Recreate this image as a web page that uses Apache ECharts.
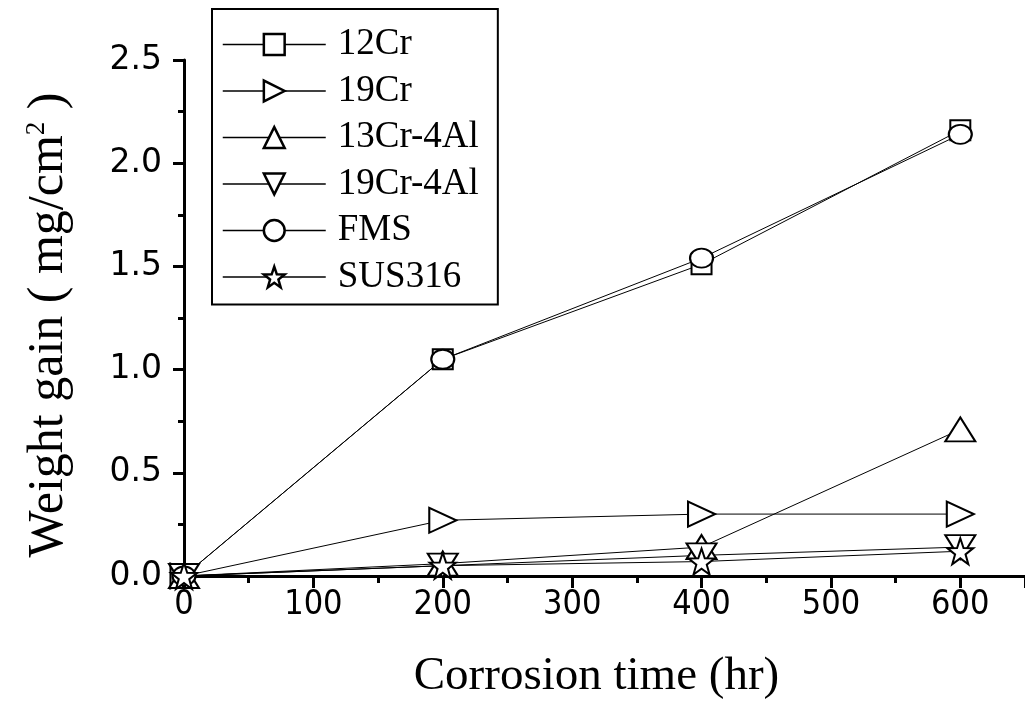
<!DOCTYPE html>
<html>
<head>
<meta charset="utf-8">
<script src="https://cdn.jsdelivr.net/npm/echarts@6/dist/echarts.min.js"></script>
<style>html,body{margin:0;padding:0;background:#fff;}#c{width:1025px;height:705px;}</style>
</head>
<body>
<div id="c"></div>
<script>
const xValues = [0, 200, 400, 600];
const seriesNames = ['12Cr', '19Cr', '13Cr-4Al', '19Cr-4Al', 'FMS', 'SUS316'];
const cr12 = [0, 1.05, 1.51, 2.16];
const cr19 = [0, 0.27, 0.30, 0.30];
const cr13al4 = [0, 0.06, 0.14, 0.71];
const cr19al4 = [0, 0.05, 0.10, 0.14];
const fms = [0, 1.05, 1.54, 2.14];
const sus316 = [0, 0.05, 0.07, 0.12];
const xTickLabels = [0, 100, 200, 300, 400, 500, 600];
const yTickLabels = ['0.0', '0.5', '1.0', '1.5', '2.0', '2.5'];

const starPath = 'path://M50,0 L61.8,33.8 L97.6,34.5 L69.1,56.2 L79.4,90.5 L50,70 L20.6,90.5 L30.9,56.2 L2.4,34.5 L38.2,33.8 Z';

function pairs(ys) { return xValues.map((x, i) => [x, ys[i]]); }

const serif = '"Liberation Serif", "Times New Roman", serif';
const baseSeries = {
  type: 'line',
  xAxisIndex: 0,
  yAxisIndex: 0,
  lineStyle: { color: '#000', width: 1 },
  itemStyle: { color: '#fff', borderColor: '#000', borderWidth: 2 },
  showAllSymbol: true,
  clip: false,
  animation: false
};
const defs = [
  { name: seriesNames[0], data: cr12, symbol: 'rect', symbolSize: 20, symbolRotate: 0 },
  { name: seriesNames[1], data: cr19, symbol: 'triangle', symbolSize: [25, 27], symbolRotate: -90 },
  { name: seriesNames[2], data: cr13al4, symbol: 'triangle', symbolSize: [30, 24], symbolRotate: 0 },
  { name: seriesNames[3], data: cr19al4, symbol: 'triangle', symbolSize: [30, 24], symbolRotate: 180 },
  { name: seriesNames[4], data: fms, symbol: 'circle', symbolSize: [23, 19], symbolRotate: 0 },
  { name: seriesNames[5], data: sus316, symbol: starPath, symbolSize: 26, symbolRotate: 0 }
];
const series = defs.map(d => Object.assign({}, baseSeries, {
  name: d.name, data: pairs(d.data), symbol: d.symbol, symbolSize: d.symbolSize, symbolRotate: d.symbolRotate
}));

const axisLineStyle = { color: '#000', width: 3 };
const chart = echarts.init(document.getElementById('c'), null, { renderer: 'canvas' });
chart.setOption({
  animation: false,
  backgroundColor: '#fff',
  grid: { left: 184, right: -9, top: 60, bottom: 125, containLabel: false },
  legend: {
    orient: 'vertical',
    left: 212,
    top: 9,
    padding: [17, 19, 9, 10],
    itemGap: 9.5,
    itemWidth: 103,
    itemHeight: 26,
    backgroundColor: '#fff',
    borderColor: '#000',
    borderWidth: 2,
    borderRadius: 0,
    itemStyle: { borderWidth: 2.5 },
    lineStyle: { width: 1.5 },
    formatter: '{a|{name}}',
    textStyle: {
      color: '#000',
      fontFamily: serif,
      fontSize: 37,
      rich: { a: { fontFamily: serif, fontSize: 37, color: '#000', padding: [0, 0, 0, 7] } }
    },
    data: seriesNames
  },
  xAxis: [
    {
      type: 'value', gridIndex: 0, position: 'bottom', min: 0, max: 650, interval: 50,
      axisLine: { show: true, onZero: false, lineStyle: axisLineStyle },
      axisTick: { show: true, inside: false, length: 7, lineStyle: { color: '#000', width: 3 } },
      splitLine: { show: false },
      axisLabel: {
        show: true, margin: 12, color: '#000',
        fontFamily: '"Liberation Sans Narrow", "DejaVu Sans Condensed", "Arial Narrow", sans-serif',
        fontSize: 34,
        showMaxLabel: false,
        formatter: v => (xTickLabels.indexOf(v) >= 0 ? String(v) : '')
      },
      name: 'Corrosion time (hr)',
      nameLocation: 'middle',
      nameGap: 77,
      nameTextStyle: { color: '#000', fontFamily: serif, fontSize: 47, padding: [0, 16, 0, 0] }
    },
    {
      type: 'value', gridIndex: 0, position: 'bottom', min: 0, max: 650, interval: 100,
      axisLine: { show: false, onZero: false },
      axisTick: { show: true, inside: false, length: 12, lineStyle: { color: '#000', width: 3 } },
      splitLine: { show: false },
      axisLabel: { show: false }
    }
  ],
  yAxis: [
    {
      type: 'value', gridIndex: 0, position: 'left', min: 0, max: 2.5, interval: 0.25,
      axisLine: { show: true, onZero: false, lineStyle: axisLineStyle },
      axisTick: { show: true, inside: false, length: 6, lineStyle: { color: '#000', width: 3 } },
      splitLine: { show: false },
      axisLabel: {
        show: true, margin: 22, color: '#000',
        fontFamily: '"DejaVu Sans", sans-serif', fontSize: 33,
        formatter: v => {
          const s = v.toFixed(1);
          return (Math.abs(v * 2 - Math.round(v * 2)) < 1e-6 && yTickLabels.indexOf(s) >= 0) ? s : '';
        }
      },
      name: 'Weight gain ( mg/cm{sup|2} )',
      nameLocation: 'middle',
      nameGap: 110,
      nameTextStyle: {
        color: '#000', fontFamily: serif, fontSize: 50, padding: [0, 14, 0, 0],
        rich: { sup: { fontFamily: serif, fontSize: 27, color: '#000', verticalAlign: 'top', padding: [0, 0, 24, 0] } }
      }
    },
    {
      type: 'value', gridIndex: 0, position: 'left', min: 0, max: 2.5, interval: 0.5,
      axisLine: { show: false, onZero: false },
      axisTick: { show: true, inside: false, length: 11, lineStyle: { color: '#000', width: 3 } },
      splitLine: { show: false },
      axisLabel: { show: false }
    }
  ],
  series: series
});
</script>
</body>
</html>
